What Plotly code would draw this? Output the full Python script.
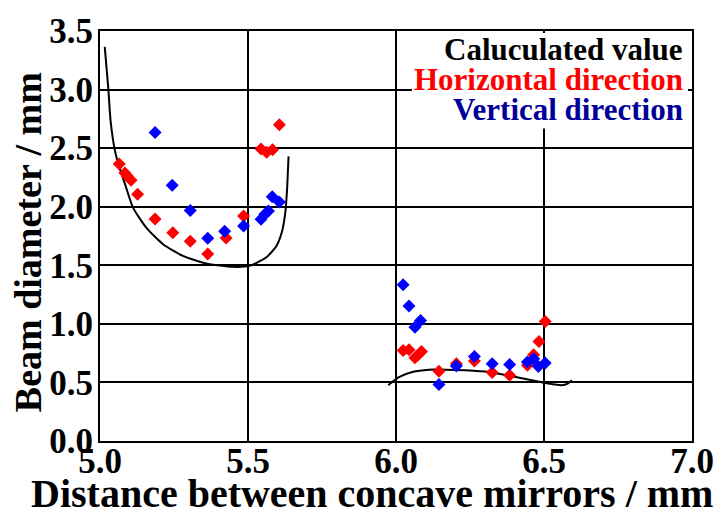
import plotly.graph_objects as go

# Measured beam diameters (mm) versus mirror separation (mm)
horiz_x = [5.065, 5.084, 5.093, 5.105, 5.127, 5.186, 5.246, 5.305, 5.364, 5.426,
           5.485, 5.544, 5.563, 5.583, 5.606,
           6.024, 6.044, 6.064, 6.075, 6.086, 6.145, 6.204, 6.265, 6.325, 6.384,
           6.444, 6.465, 6.483, 6.504]
horiz_y = [2.364, 2.288, 2.26, 2.226, 2.107, 1.895, 1.778, 1.705, 1.597, 1.733,
           1.92, 2.492, 2.466, 2.487, 2.70,
           0.773, 0.779, 0.711, 0.737, 0.765, 0.595, 0.66, 0.682, 0.584, 0.561,
           0.646, 0.737, 0.85, 1.02]

vert_x = [5.186, 5.244, 5.305, 5.364, 5.421, 5.485, 5.544, 5.557, 5.569, 5.582, 5.606,
          6.024, 6.044, 6.064, 6.083, 6.145, 6.204, 6.265, 6.325, 6.384, 6.444,
          6.465, 6.481, 6.504]
vert_y = [2.634, 2.184, 1.968, 1.73, 1.79, 1.835, 1.892, 1.935, 1.963, 2.084, 2.04,
          1.334, 1.153, 0.971, 1.028, 0.482, 0.64, 0.722, 0.66, 0.652, 0.674,
          0.703, 0.637, 0.665]

# Calculated beam diameter, two stability regions
calc_left_x = [5.016, 5.028, 5.036, 5.051, 5.066, 5.085, 5.112, 5.157, 5.213, 5.28,
               5.359, 5.449, 5.505, 5.561, 5.595, 5.614, 5.626, 5.632, 5.637]
calc_left_y = [3.365, 3.01, 2.727, 2.472, 2.33, 2.19, 1.99, 1.82, 1.68, 1.58,
               1.515, 1.487, 1.495, 1.566, 1.66, 1.78, 1.95, 2.15, 2.43]
calc_right_x = [5.974, 5.99, 6.010, 6.055, 6.111, 6.167, 6.235, 6.313, 6.392, 6.459,
                6.515, 6.56, 6.58, 6.594]
calc_right_y = [0.476, 0.51, 0.546, 0.589, 0.609, 0.609, 0.603, 0.589, 0.552, 0.518,
                0.49, 0.476, 0.49, 0.518]

x_ticks = [5.0, 5.5, 6.0, 6.5, 7.0]
y_ticks = [0.0, 0.5, 1.0, 1.5, 2.0, 2.5, 3.0, 3.5]

legend_labels = ["Caluculated value", "Horizontal direction", "Vertical direction"]
legend_colors = ["#000000", "#ff0000", "#000099"]

FONT = "Liberation Serif"

fig = go.Figure()
for cx, cy in [(calc_left_x, calc_left_y), (calc_right_x, calc_right_y)]:
    fig.add_trace(go.Scatter(x=cx, y=cy, mode="lines",
                             line=dict(color="black", width=2, shape="spline", smoothing=0.6),
                             showlegend=False, hoverinfo="skip"))
fig.add_trace(go.Scatter(x=horiz_x, y=horiz_y, mode="markers",
                         marker=dict(symbol="diamond", size=10, color="#ff0000"),
                         showlegend=False))
fig.add_trace(go.Scatter(x=vert_x, y=vert_y, mode="markers",
                         marker=dict(symbol="diamond", size=10, color="#0000ff"),
                         showlegend=False))

L, R, T, B = 100, 32, 29, 75
W, H = 726, 516
pw, ph = W - L - R, H - T - B


def px(xp):
    return (xp - L) / pw


def py(yp):
    return (H - B - yp) / ph


axis_common = dict(showgrid=True, gridcolor="black", gridwidth=2,
                   showline=True, linecolor="black", linewidth=2, mirror=True,
                   ticks="", zeroline=False,
                   tickfont=dict(family=FONT, size=35, color="black", weight="bold"))

fig.update_xaxes(range=[5.0, 7.0], tickvals=x_ticks, tickformat=".1f",
                 ticklabelstandoff=-12, **axis_common)
fig.update_yaxes(range=[0.0, 3.5], tickvals=y_ticks, tickformat=".1f",
                 ticklabelstandoff=-2, **axis_common)

# white box behind the legend text
fig.add_shape(type="rect", xref="paper", yref="paper",
              x0=px(413), x1=px(690), y0=py(127), y1=py(31),
              fillcolor="white", line=dict(width=0), layer="above")

annotations = [
    dict(text="Distance between concave mirrors / mm", x=px(373), y=py(494),
         xref="paper", yref="paper", xanchor="center", yanchor="middle",
         showarrow=False, font=dict(family=FONT, size=40, color="black", weight="bold")),
    dict(text="Beam diameter / mm", x=px(28), y=py(241), textangle=-90,
         xref="paper", yref="paper", xanchor="center", yanchor="middle",
         showarrow=False, font=dict(family=FONT, size=38, color="black", weight="bold")),
]
for label, color, yc in zip(legend_labels, legend_colors, [48, 78, 108]):
    annotations.append(dict(text=label, x=px(687), y=py(yc), xref="paper", yref="paper",
                            xanchor="right", yanchor="middle", showarrow=False,
                            font=dict(family=FONT, size=31, color=color, weight="bold")))

fig.update_layout(width=W, height=H, margin=dict(l=L, r=R, t=T, b=B),
                  paper_bgcolor="white", plot_bgcolor="white",
                  annotations=annotations, showlegend=False)

fig.write_html("out.html")
